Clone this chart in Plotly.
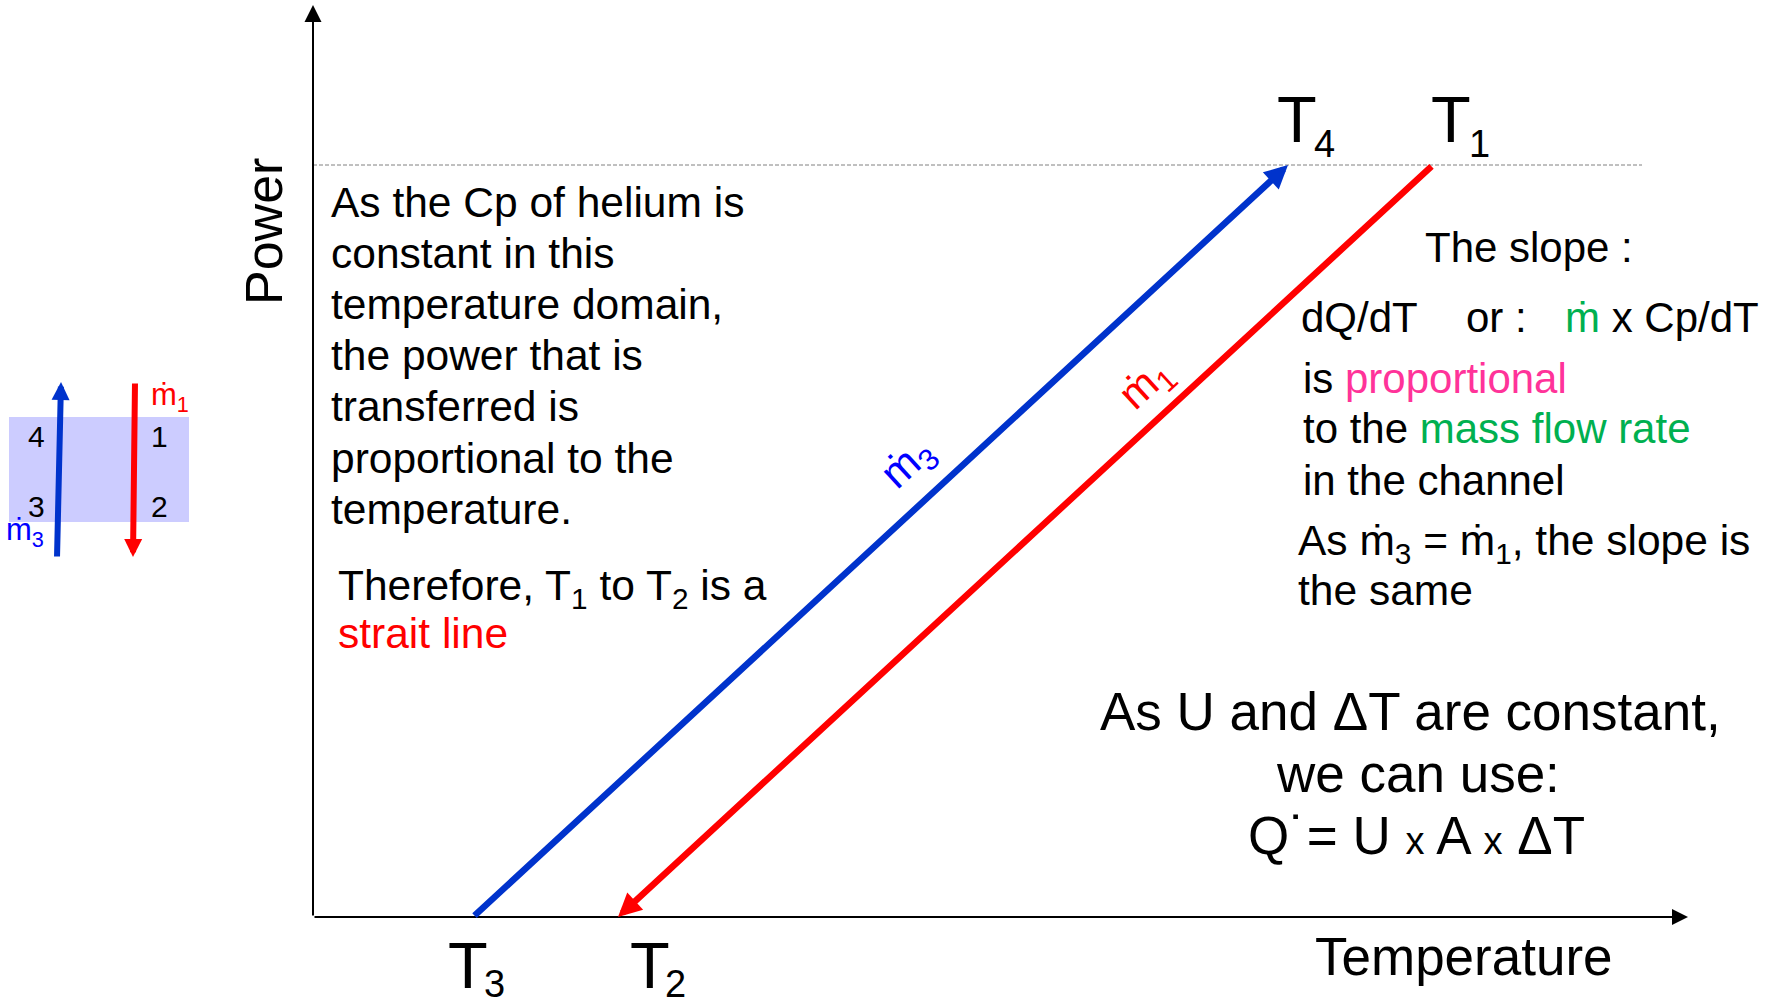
import plotly.graph_objects as go

W, H = 1779, 1006
FONT = "Liberation Sans, Arial, sans-serif"

# Temperatures along the horizontal axis (arbitrary units, origin at the axes corner)
temp_values = [160, 305, 975, 1120]   # T3, T2, T4, T1
# Power levels: nothing exchanged / full exchanged power
power_levels = [0, 752]

t3, t2, t4, t1 = temp_values
p_zero, p_full = power_levels
temp_axis_end = 1375
power_axis_end = 912
full_power_line_end = 1329

BLUE_LINE = "#0033cc"
BLUE_TEXT = "#0000ff"
RED = "#ff0000"
GREEN = "#00b050"
PINK = "#ff3399"


def px(x):
    return x / W


def py(y):
    return 1 - y / H


annotations = []


def text(s, x, baseline, size, color="black", anchor="left"):
    top = baseline - 0.905 * size
    annotations.append(dict(
        text=s, x=px(x), y=py(top), xref="paper", yref="paper",
        xanchor=anchor, yanchor="top", showarrow=False, borderpad=0, borderwidth=0,
        font=dict(size=size, color=color, family=FONT)))


def arrow(x0, y0, x1, y1, color, width, head, size):
    annotations.append(dict(
        text="", x=x1, y=y1, ax=x0, ay=y0, xref="x", yref="y", axref="x", ayref="y",
        showarrow=True, arrowhead=head, arrowsize=size, arrowwidth=width,
        arrowcolor=color, standoff=0))


def screen_arrow(x0, y0, x1, y1, color, width, head, size):
    annotations.append(dict(
        text="", x=px(x1), y=py(y1), xref="paper", yref="paper",
        ax=x0 - x1, ay=y0 - y1, axref="pixel", ayref="pixel",
        showarrow=True, arrowhead=head, arrowsize=size, arrowwidth=width,
        arrowcolor=color, standoff=0))


fig = go.Figure()

# full-power reference level
fig.add_trace(go.Scatter(
    x=[0, full_power_line_end], y=[p_full, p_full], mode="lines",
    line=dict(color="#808080", width=1, dash="4px,2px"), hoverinfo="skip"))

# axes
arrow(0, 0, 0, power_axis_end, "black", 2, 2, 1.7)
arrow(0, 0, temp_axis_end, 0, "black", 2, 2, 1.6)

# cold stream 3 -> 4 and hot stream 1 -> 2
arrow(t3, p_zero, t4, p_full, BLUE_LINE, 6.5, 2, 0.72)
arrow(t1, p_full, t2, p_zero, RED, 6.5, 2, 0.72)

# axis titles
annotations.append(dict(
    text="Power", x=px(264), y=py(232), xref="paper", yref="paper",
    xanchor="center", yanchor="middle", textangle=-90, showarrow=False,
    font=dict(size=52, color="black", family=FONT)))
text("Temperature", 1464, 975, 53, anchor="center")

# temperature labels
text("T", 1277, 142, 65)
text("4", 1314, 157, 38)
text("T", 1431, 142, 65)
text("1", 1469, 157, 38)
text("T", 448, 988, 65)
text("3", 484, 997, 38)
text("T", 630, 988, 65)
text("2", 665, 997, 38)

# stream labels along the lines
annotations.append(dict(
    text="ṁ<sub>3</sub>", x=px(908), y=py(464), xref="paper", yref="paper",
    xanchor="center", yanchor="middle", textangle=-42.7, showarrow=False,
    font=dict(size=43, color=BLUE_TEXT, family=FONT)))
annotations.append(dict(
    text="ṁ<sub>1</sub>", x=px(1146), y=py(385), xref="paper", yref="paper",
    xanchor="center", yanchor="middle", textangle=-42.7, showarrow=False,
    font=dict(size=43, color=RED, family=FONT)))

# left explanation
left_lines = [
    "As the Cp of helium is",
    "constant in this",
    "temperature domain,",
    "the power that is",
    "transferred is",
    "proportional to the",
    "temperature.",
]
for i, line in enumerate(left_lines):
    text(line, 331, 217 + 51.2 * i, 42.5)
text("Therefore, T<sub>1</sub> to T<sub>2</sub> is a", 338, 600, 42.5)
text("strait line", 338, 648, 42.5, color=RED)

# right explanation
text("The slope :", 1425, 262, 42)
text("dQ/dT", 1301, 332, 42)
text("or :", 1466, 332, 42)
text(f"<span style='color:{GREEN}'>ṁ</span> x Cp/dT", 1565, 332, 42)
text(f"is <span style='color:{PINK}'>proportional</span>", 1303, 393, 42)
text(f"to the <span style='color:{GREEN}'>mass flow rate</span>", 1303, 443, 42)
text("in the channel", 1303, 495, 42)
text("As ṁ<sub>3</sub> = ṁ<sub>1</sub>, the slope is", 1298, 555, 42.5)
text("the same", 1298, 605, 42.5)

# heat transfer relation
text("As U and ΔT are constant,", 1410, 730, 53, anchor="center")
text("we can use:", 1418, 792, 53, anchor="center")
text("Q˙= U <span style='font-size:38px'>x</span> A <span style='font-size:38px'>x</span> ΔT",
     1416, 854, 53, anchor="center")

# small channel sketch
screen_arrow(57, 558, 61, 382, BLUE_LINE, 6, 2, 0.6)
screen_arrow(135, 382, 133, 557, RED, 6, 2, 0.6)
text("4", 28, 447, 30)
text("1", 151, 447, 30)
text("3", 28, 517, 30)
text("2", 151, 517, 30)
text("ṁ<sub>1</sub>", 151, 405, 31, color=RED)
text("ṁ<sub>3</sub>", 6, 540, 31, color=BLUE_TEXT)

fig.update_layout(
    width=W, height=H,
    margin=dict(l=0, r=0, t=0, b=0),
    paper_bgcolor="white", plot_bgcolor="white",
    showlegend=False,
    xaxis=dict(range=[-313, W - 313], visible=False, fixedrange=True),
    yaxis=dict(range=[917 - H, 917], visible=False, fixedrange=True),
    annotations=annotations,
    shapes=[dict(type="rect", xref="paper", yref="paper",
                 x0=px(9), x1=px(189), y0=py(522), y1=py(417),
                 fillcolor="#ccccff", line=dict(width=0), layer="below")],
)

fig.write_html("out.html")
